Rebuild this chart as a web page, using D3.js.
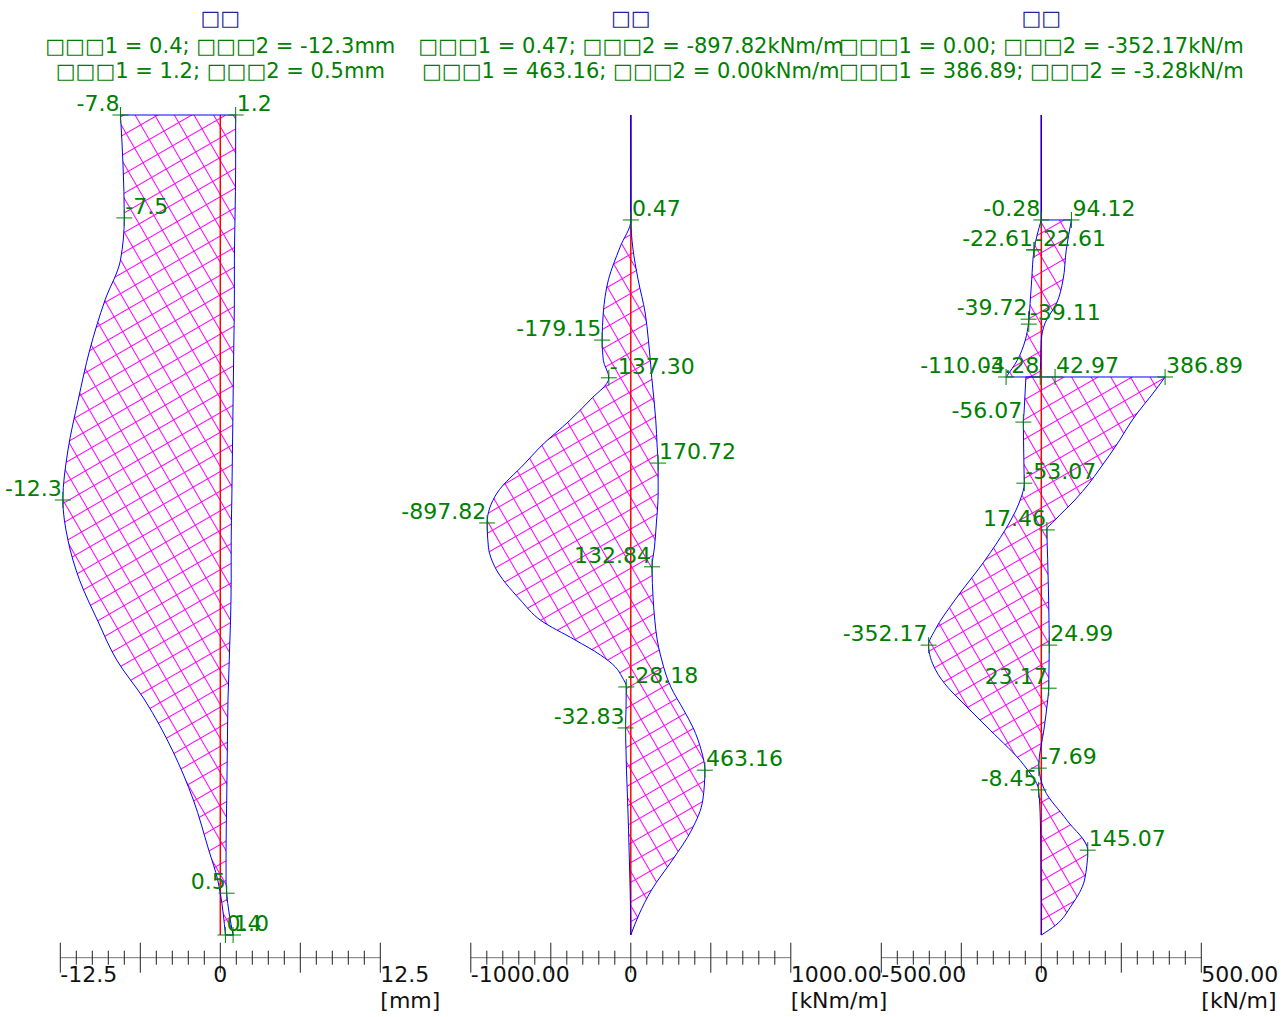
<!DOCTYPE html>
<html>
<head>
<meta charset="utf-8">
<script src="https://cdn.jsdelivr.net/npm/d3@7"></script>
<style>
  html, body { margin: 0; padding: 0; background: #fff; }
  svg { display: block; font-family: "DejaVu Sans", Verdana, sans-serif; }
</style>
</head>
<body>
<svg id="chart" width="1282" height="1017"></svg>
<script>
// ---- Données (profondeur en m, 0 = tête) ----

// panneau 1 : déplacement [mm]
const dispDepth = [0, 1.22, 2.51, 3.54, 4.51, 5.73, 6.95, 8.17, 9.39, 10.37, 11.34, 12.32, 13.29, 14.27, 15.49, 16.71, 17.93, 18.66, 18.98, 20];
const dispMin = [-7.8, -7.6, -7.5, -7.8, -9.0, -10.2, -11.1, -11.9, -12.3, -11.9, -11.0, -9.6, -8.1, -5.9, -3.75, -2.1, -0.9, -0.2, 0.0, 0.4];
const dispMax = [1.2, 1.2, 1.15, 1.1, 1.1, 1.05, 1.0, 0.95, 0.9, 0.85, 0.85, 0.8, 0.7, 0.6, 0.55, 0.5, 0.45, 0.45, 0.5, 1.0];

// panneau 2 : moment [kNm/m]
const momDepth = [0, 2.56, 3.22, 4.02, 4.83, 5.49, 5.98, 6.41, 6.95, 7.44, 8.10, 8.49, 9.22, 9.95, 10.54, 11.02, 11.83, 12.32, 12.80, 13.17, 13.46, 13.71, 13.95, 14.51, 14.95, 15.49, 15.98, 16.71, 17.44, 18.17, 18.90, 19.51, 20];
const momMin = [0, 0.47, -67, -140, -172, -179.15, -172, -137.3, -254, -379, -567, -660, -836, -897.82, -890, -850, -690, -565, -350, -190, -97, -54, -28.18, -30, -32.83, -30, -27, -20, -14, -9, -4, -1, 0];
const momMax = [0, 0.47, 12, 46, 90, 110, 122, 131, 145, 156, 165, 170.72, 171, 160, 148, 132.84, 140, 150, 165, 185, 205, 225, 250, 330, 390, 440, 463.16, 450, 380, 260, 130, 50, 0];

// panneau 3 : effort tranchant [kN/m] (profondeurs répétées = sauts)
const shearDepth = [0, 2.56, 2.56, 3.29, 4.02, 4.59, 5.07, 5.49, 5.98, 6.39, 6.39, 6.83, 7.27, 7.49, 7.93, 8.66, 8.98, 9.39, 9.88, 10.12, 10.85, 11.83, 12.56, 12.93, 13.54, 13.98, 14.27, 15.00, 15.85, 16.46, 17.20, 17.93, 18.66, 19.27, 19.76, 20];
const shearMin = [0, 0, -0.28, -22.61, -30, -35, -39.72, -50, -75, -110.04, -48, -51, -54, -56.07, -55.5, -54, -53.07, -66, -95, -113, -175, -270, -332, -352.17, -330, -290, -254, -160, -55, -8.45, -3, -1.5, -1, 0, 0, 0];
const shearMax = [0, 0, 94.12, 78, 68, 48, 12, 0, -2, -3.28, 386.89, 345, 300, 280, 245, 180, 150, 105, 43, 17.46, 20, 23, 24.5, 24.99, 24, 23.17, 20, 8, -7.69, 10, 80, 145.07, 135, 95, 45, 0];

// étiquettes des valeurs remarquables : [profondeur, valeur, texte, côté]
const dispLabels = [
  [0, -7.8, "-7.8", "L"], [0, 1.2, "1.2", "R"], [2.51, -7.5, "-7.5", "R"],
  [9.39, -12.3, "-12.3", "L"], [18.98, 0.5, "0.5", "L"], [20, 0.4, "0.4", "R"], [20, 1.0, "1.0", "R"]
];
const momLabels = [
  [2.56, 0.47, "0.47", "R"], [5.49, -179.15, "-179.15", "L"], [6.41, -137.30, "-137.30", "R"],
  [8.49, 170.72, "170.72", "R"], [9.95, -897.82, "-897.82", "L"], [11.02, 132.84, "132.84", "L"],
  [13.95, -28.18, "-28.18", "R"], [14.95, -32.83, "-32.83", "L"], [15.98, 463.16, "463.16", "R"]
];
const shearLabels = [
  [2.56, -0.28, "-0.28", "L"], [2.56, 94.12, "94.12", "R"], [3.29, -22.61, "-22.61", "L"],
  [3.29, -22.61, "-22.61", "R"], [4.98, -39.72, "-39.72", "L"], [5.10, -39.11, "-39.11", "R"],
  [6.39, -110.04, "-110.04", "L"], [6.39, -3.28, "-3.28", "L"], [6.39, 42.97, "42.97", "R"],
  [6.39, 386.89, "386.89", "R"], [7.49, -56.07, "-56.07", "L"], [8.98, -53.07, "-53.07", "R"],
  [10.12, 17.46, "17.46", "L"], [12.93, -352.17, "-352.17", "L"], [12.93, 24.99, "24.99", "R"],
  [13.98, 23.17, "23.17", "L"], [15.93, -7.69, "-7.69", "R"], [16.46, -8.45, "-8.45", "L"],
  [17.93, 145.07, "145.07", "R"]
];

// textes
const titles = ["□□", "□□", "□□"];
const headers = [
  ["□□□1 = 0.4; □□□2 = -12.3mm", "□□□1 = 1.2; □□□2 = 0.5mm"],
  ["□□□1 = 0.47; □□□2 = -897.82kNm/m", "□□□1 = 463.16; □□□2 = 0.00kNm/m"],
  ["□□□1 = 0.00; □□□2 = -352.17kN/m", "□□□1 = 386.89; □□□2 = -3.28kN/m"]
];
const axisDomains = [[-12.5, 12.5], [-1000, 1000], [-500, 500]];
const axisTickLabels = [["-12.5", "0", "12.5"], ["-1000.00", "0", "1000.00"], ["-500.00", "0", "500.00"]];
const units = ["[mm]", "[kNm/m]", "[kN/m]"];

//---------------------------------------------------------------------------------------

const svg = d3.select("#chart");

const plotTop = 115;
const plotBottom = 935;
const axisY = 957.7;
const firstCenter = 220.3;
const panelStep = 410.5;
const halfWidth = 160;
const green = "#008000";

// échelle verticale commune
const scaleY = d3.scaleLinear().domain([0, 20]).range([plotTop, plotBottom]);

// motif hachuré magenta
svg.append("defs")
  .append("pattern")
  .attr("id", "hatch")
  .attr("patternUnits", "userSpaceOnUse")
  .attr("width", 17)
  .attr("height", 17)
  .attr("patternTransform", "rotate(-30)")
  .append("path")
  .attr("d", "M0,8.5H17M8.5,0V17")
  .attr("stroke", "#ff00ff")
  .attr("stroke-width", 1)
  .attr("fill", "none");

const panels = [
  { depth: dispDepth, lo: dispMin, hi: dispMax, labels: dispLabels },
  { depth: momDepth, lo: momMin, hi: momMax, labels: momLabels },
  { depth: shearDepth, lo: shearMin, hi: shearMax, labels: shearLabels }
];

// découpe en tronçons aux profondeurs répétées (sauts)
function splitSegments(rows) {
  const segs = [[rows[0]]];
  for (let k = 1; k < rows.length; k++) {
    if (rows[k].depth === rows[k - 1].depth) segs.push([]);
    segs[segs.length - 1].push(rows[k]);
  }
  return segs.filter((s) => s.length > 1);
}

panels.forEach((p, i) => {
  const cx = firstCenter + i * panelStep;
  const scaleX = d3.scaleLinear().domain(axisDomains[i]).range([cx - halfWidth, cx + halfWidth]);
  const rows = p.depth.map((d, k) => ({ depth: d, lo: p.lo[k], hi: p.hi[k] }));
  const segs = splitSegments(rows);
  const g = svg.append("g");

  // titre et valeurs extrêmes
  g.append("text")
    .attr("x", cx).attr("y", 25)
    .attr("text-anchor", "middle")
    .attr("font-size", 21)
    .attr("font-weight", "bold")
    .attr("fill", "#22229a")
    .text(titles[i]);

  headers[i].forEach((line, j) => {
    g.append("text")
      .attr("x", cx).attr("y", 53 + j * 25)
      .attr("text-anchor", "middle")
      .attr("font-size", 21)
      .attr("fill", green)
      .text(line);
  });

  // aire entre enveloppes
  const area = d3.area()
    .curve(d3.curveMonotoneY)
    .y((d) => scaleY(d.depth))
    .x0((d) => scaleX(d.lo))
    .x1((d) => scaleX(d.hi));

  g.selectAll(".fill")
    .data(segs)
    .join("path")
    .attr("class", "fill")
    .attr("d", area)
    .attr("fill", "url(#hatch)")
    .attr("stroke", "none");

  // ligne zéro rouge
  g.append("line")
    .attr("x1", scaleX(0)).attr("x2", scaleX(0))
    .attr("y1", plotTop).attr("y2", plotBottom)
    .attr("stroke", "#ff0000")
    .attr("stroke-width", 1.5);

  g.selectAll(".outline")
    .data(segs)
    .join("path")
    .attr("class", "outline")
    .attr("d", area)
    .attr("fill", "none")
    .attr("stroke", "#0000ff")
    .attr("stroke-width", 1);

  // étiquettes et croix
  const lab = g.selectAll(".lab")
    .data(p.labels)
    .join("g")
    .attr("class", "lab")
    .attr("transform", (d) => `translate(${scaleX(d[1])}, ${scaleY(d[0])})`);

  lab.append("path")
    .attr("d", "M-8,0H8M0,-8V8")
    .attr("stroke", green)
    .attr("stroke-width", 1);

  lab.append("text")
    .attr("x", (d) => (d[3] === "L" ? -1 : 1))
    .attr("y", -4)
    .attr("text-anchor", (d) => (d[3] === "L" ? "end" : "start"))
    .attr("font-size", 22)
    .attr("fill", green)
    .text((d) => d[2]);

  // axe horizontal
  const [a, b] = axisDomains[i];
  const ticks = d3.range(21).map((k) => a + (k * (b - a)) / 20);

  g.append("line")
    .attr("x1", scaleX(a)).attr("x2", scaleX(b))
    .attr("y1", axisY).attr("y2", axisY)
    .attr("stroke", "#777");

  g.selectAll(".tick")
    .data(ticks)
    .join("line")
    .attr("class", "tick")
    .attr("x1", (d) => scaleX(d)).attr("x2", (d) => scaleX(d))
    .attr("y1", (d, k) => axisY - (k % 5 === 0 ? 15 : 7))
    .attr("y2", (d, k) => axisY + (k % 5 === 0 ? 15 : 7))
    .attr("stroke", "#222")
    .attr("stroke-width", 1);

  const tickVals = [a, 0, b];
  tickVals.forEach((v, k) => {
    g.append("text")
      .attr("x", scaleX(v))
      .attr("y", 982)
      .attr("text-anchor", k === 1 ? "middle" : "start")
      .attr("font-size", 22)
      .attr("fill", "#111")
      .text(axisTickLabels[i][k]);
  });

  g.append("text")
    .attr("x", scaleX(b))
    .attr("y", 1008)
    .attr("font-size", 22)
    .attr("fill", "#111")
    .text(units[i]);
});
</script>
</body>
</html>
